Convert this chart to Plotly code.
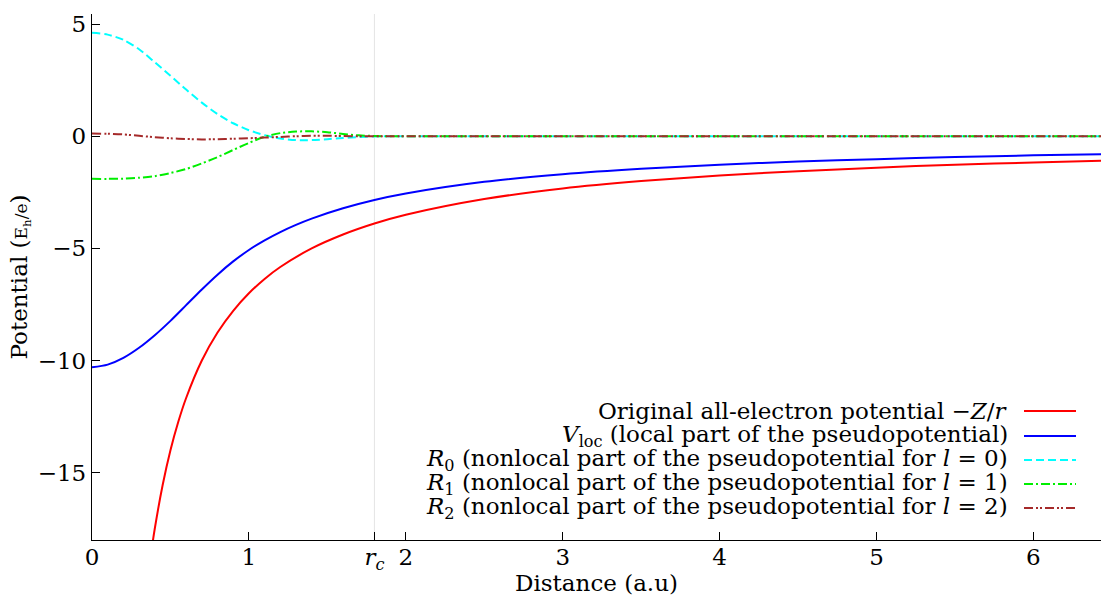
import plotly.graph_objects as go

# Original all-electron potential -Z/r
r_ae = [0.36, 0.38, 0.40, 0.45, 0.50, 0.55, 0.60, 0.70, 0.80, 0.90, 1.00, 1.10, 1.20,
        1.40, 1.60, 1.80, 2.00, 2.50, 3.00, 3.50, 4.00, 4.50, 5.00, 5.50, 6.00, 6.50]
v_ae = [-19.44, -18.42, -17.50, -15.56, -14.00, -12.73, -11.67, -10.00, -8.75, -7.78,
        -7.00, -6.36, -5.83, -5.00, -4.38, -3.89, -3.50, -2.80, -2.33, -2.00, -1.75,
        -1.56, -1.40, -1.27, -1.17, -1.08]

# Local part of the pseudopotential
r_loc = [0.0, 0.1, 0.2, 0.3, 0.4, 0.5, 0.6, 0.7, 0.8, 0.9, 1.0, 1.1, 1.2, 1.3, 1.4,
         1.6, 1.8, 2.0, 2.5, 3.0, 3.5, 4.0, 4.5, 5.0, 5.5, 6.0, 6.5]
v_loc = [-10.30, -10.18, -9.88, -9.43, -8.87, -8.23, -7.53, -6.83, -6.17, -5.58,
         -5.07, -4.64, -4.27, -3.95, -3.67, -3.21, -2.84, -2.55, -2.03, -1.69, -1.45,
         -1.27, -1.13, -1.02, -0.93, -0.85, -0.79]

# Nonlocal projector parts R_l
r_nl = [0.0, 0.1, 0.2, 0.3, 0.4, 0.5, 0.6, 0.7, 0.8, 0.9, 1.0, 1.1, 1.2, 1.3, 1.4,
        1.5, 1.6, 1.7, 1.8, 1.9, 2.0, 3.0, 4.0, 5.0, 6.0, 6.5]
v_r0 = [4.61, 4.53, 4.30, 3.88, 3.30, 2.70, 2.08, 1.50, 0.99, 0.58, 0.27, 0.05,
        -0.10, -0.17, -0.17, -0.13, -0.08, -0.04, -0.01, 0.0, 0.0, 0.0, 0.0, 0.0, 0.0, 0.0]
v_r1 = [-1.90, -1.90, -1.89, -1.85, -1.78, -1.64, -1.46, -1.21, -0.93, -0.61, -0.30,
        -0.02, 0.14, 0.21, 0.22, 0.18, 0.10, 0.04, 0.01, 0.0, 0.0, 0.0, 0.0, 0.0, 0.0, 0.0]
v_r2 = [0.12, 0.11, 0.08, 0.02, -0.04, -0.09, -0.12, -0.14, -0.13, -0.11, -0.09,
        -0.06, -0.03, 0.0, 0.02, 0.02, 0.01, 0.0, 0.0, 0.0, 0.0, 0.0, 0.0, 0.0, 0.0, 0.0]

r_c = 1.8
x_ticks = [0, 1, r_c, 2, 3, 4, 5, 6]
x_tick_text = ["0", "1", "<i>r</i><sub><i>c</i></sub>", "2", "3", "4", "5", "6"]
y_ticks = [-15, -10, -5, 0, 5]

series = [
    ("Original all-electron potential \u2212<i>Z</i>/<i>r</i>", r_ae, v_ae, "#ff0000", "solid"),
    ("<i>V</i><sub>loc</sub> (local part of the pseudopotential)", r_loc, v_loc, "#0000ff", "solid"),
    ("<i>R</i><sub>0</sub> (nonlocal part of the pseudopotential for <i>l</i> = 0)", r_nl, v_r0, "#00ffff", "8px,4px"),
    ("<i>R</i><sub>1</sub> (nonlocal part of the pseudopotential for <i>l</i> = 1)", r_nl, v_r1, "#00ee00", "9px,3px,2px,3px"),
    ("<i>R</i><sub>2</sub> (nonlocal part of the pseudopotential for <i>l</i> = 2)", r_nl, v_r2, "#a52a2a", "9px,3px,2px,2px,2px,3px"),
]

FONT = "DejaVu Serif"
FS = 23
W, H = 1101, 599
ML, MT, MB = 92, 14, 59
plot_w = W - ML
plot_h = H - MT - MB

fig = go.Figure()
for name, xs, ys, color, dash in series:
    fig.add_trace(go.Scatter(
        x=xs, y=ys, mode="lines", name=name, showlegend=False,
        line=dict(color=color, width=2, dash=dash, shape="spline", smoothing=0.8),
    ))

# Key placed inside the plot, text right-aligned with the line sample on its right
key_text_right = 1010
key_line = (1024, 1076)
key_rows = [411, 436, 460, 484, 508]
annotations = []
shapes = []
for (name, _, _, color, dash), ypx in zip(series, key_rows):
    yp = (MT + plot_h - ypx) / plot_h
    annotations.append(dict(
        xref="paper", yref="paper", x=(key_text_right - ML) / plot_w, y=yp,
        xanchor="right", yanchor="middle", text=name, showarrow=False,
        font=dict(family=FONT, size=FS, color="black"),
    ))
    shapes.append(dict(
        type="line", xref="paper", yref="paper",
        x0=(key_line[0] - ML) / plot_w, x1=(key_line[1] - ML) / plot_w, y0=yp, y1=yp,
        line=dict(color=color, width=2, dash=dash),
    ))

# Cut-off radius marker
shapes.append(dict(type="line", xref="x", yref="paper", x0=r_c, x1=r_c, y0=0, y1=1,
                   line=dict(color="#e4e4e4", width=1), layer="below"))

x_range = [0, plot_w / 156.9]

fig.update_layout(
    width=W, height=H,
    margin=dict(l=ML, r=0, t=MT, b=MB),
    paper_bgcolor="white", plot_bgcolor="white",
    font=dict(family=FONT, size=FS, color="black"),
    annotations=annotations, shapes=shapes,
    xaxis=dict(
        range=x_range, tickvals=x_ticks, ticktext=x_tick_text,
        ticks="inside", ticklen=8, tickwidth=1.3, tickcolor="black",
        showline=True, linecolor="black", linewidth=1.3,
        showgrid=False, zeroline=False,
        tickfont=dict(family=FONT, size=FS),
        ticklabelstandoff=-4,
        title=dict(text="Distance (a.u)", font=dict(family=FONT, size=FS), standoff=1),
    ),
    xaxis2=dict(
        range=x_range, overlaying="x", side="top", anchor="y",
        tickvals=[0, 1, 2, 3, 4, 5, 6], showticklabels=False,
        ticks="inside", ticklen=8, tickwidth=1.3, tickcolor="black",
        showline=True, linecolor="black", linewidth=1.3,
        showgrid=False, zeroline=False,
    ),
    yaxis=dict(
        range=[-18, 5.45], tickvals=y_ticks,
        ticks="inside", ticklen=8, tickwidth=1.3, tickcolor="black",
        showline=True, linecolor="black", linewidth=1.3,
        showgrid=False, zeroline=False,
        tickfont=dict(family=FONT, size=FS),
        title=dict(text='Potential (<span style="font-size:17px">E<sub>h</sub>/e</span>)',
                   font=dict(family=FONT, size=FS), standoff=3),
    ),
)

fig.write_html("out.html")
